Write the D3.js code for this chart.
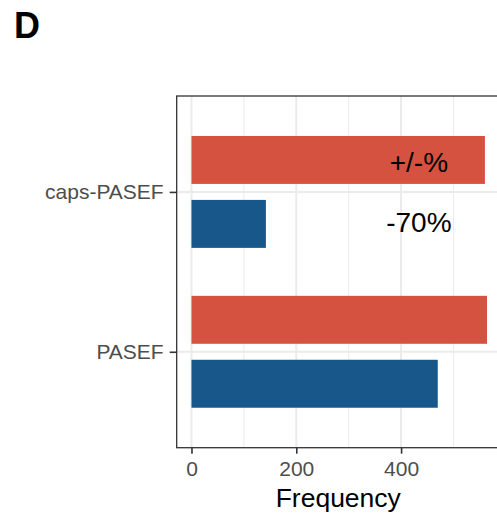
<!DOCTYPE html>
<html>
<head>
<meta charset="utf-8">
<script src="https://cdn.jsdelivr.net/npm/d3@7"></script>
<style>
  body { margin: 0; background: #fff; }
  svg { display: block; font-family: "Liberation Sans", Arial, sans-serif; }
</style>
</head>
<body>
<svg id="chart" width="497" height="515"></svg>
<script>
// values
const categories = [ "caps-PASEF", "PASEF" ];
const seriesKeys = [ "red", "blue" ];
const redValues = [ 560, 564 ];
const blueValues = [ 142, 470 ];
const xTicks = [ 0, 200, 400 ];
const xMinorTicks = [ 100, 300, 500 ];
const annoTexts = [ "+/-%", "-70%" ];
const annoX = [ 434, 434 ];
const annoCat = [ "caps-PASEF", "caps-PASEF" ];

const colors = { red: "#d55240", blue: "#175789" };
const dodge = { red: -0.2, blue: 0.2 };
const annoOffset = [ -0.185, 0.185 ];

const svg = d3.select( "#chart" );
const PANEL = { left: 176.7, top: 96, bottom: 447.7 };

const data = [];
categories.forEach( ( c, i ) => {
  data.push( { cat: c, key: "red", value: redValues[i] } );
  data.push( { cat: c, key: "blue", value: blueValues[i] } );
} );

// ggplot style 5% expansion
const xMax = d3.max( data, d => d.value );
const pad = xMax * 0.05;
const pxPerUnit = 0.524;
const x = d3.scaleLinear()
  .domain( [ -pad, xMax + pad ] )
  .range( [ PANEL.left, PANEL.left + ( xMax + 2 * pad ) * pxPerUnit ] );
PANEL.right = x.range()[1];

const y = d3.scalePoint()
  .domain( categories )
  .range( [ PANEL.top, PANEL.bottom ] )
  .padding( 0.6 );
const step = y.step();

// grid
const grid = svg.append( "g" );
grid.selectAll( ".minor" )
  .data( xMinorTicks )
  .enter()
  .append( "line" )
  .attr( "x1", d => x( d ) ).attr( "x2", d => x( d ) )
  .attr( "y1", PANEL.top ).attr( "y2", PANEL.bottom )
  .attr( "stroke", "#ebebeb" ).attr( "stroke-width", 1 );
grid.selectAll( ".majx" )
  .data( xTicks )
  .enter()
  .append( "line" )
  .attr( "x1", d => x( d ) ).attr( "x2", d => x( d ) )
  .attr( "y1", PANEL.top ).attr( "y2", PANEL.bottom )
  .attr( "stroke", "#ebebeb" ).attr( "stroke-width", 2 );
grid.selectAll( ".majy" )
  .data( categories )
  .enter()
  .append( "line" )
  .attr( "x1", PANEL.left ).attr( "x2", PANEL.right )
  .attr( "y1", d => y( d ) ).attr( "y2", d => y( d ) )
  .attr( "stroke", "#ebebeb" ).attr( "stroke-width", 2 );

// bars
svg.append( "g" )
  .selectAll( "rect" )
  .data( data )
  .enter()
  .append( "rect" )
  .attr( "x", x( 0 ) )
  .attr( "y", d => y( d.cat ) + ( dodge[d.key] - 0.15 ) * step )
  .attr( "width", d => x( d.value ) - x( 0 ) )
  .attr( "height", 0.3 * step )
  .attr( "fill", d => colors[d.key] );

// annotations
svg.append( "g" )
  .selectAll( "text" )
  .data( annoTexts )
  .enter()
  .append( "text" )
  .attr( "x", ( d, i ) => x( annoX[i] ) )
  .attr( "y", ( d, i ) => y( annoCat[i] ) + annoOffset[i] * step )
  .attr( "dy", "0.36em" )
  .attr( "text-anchor", "middle" )
  .attr( "font-size", 28 )
  .attr( "fill", "#000" )
  .text( d => d );

// panel border
svg.append( "rect" )
  .attr( "x", PANEL.left ).attr( "y", PANEL.top )
  .attr( "width", PANEL.right - PANEL.left )
  .attr( "height", PANEL.bottom - PANEL.top )
  .attr( "fill", "none" )
  .attr( "stroke", "#333" )
  .attr( "stroke-width", 1.3 );

// axes
const xAxis = svg.append( "g" )
  .attr( "transform", `translate(0,${PANEL.bottom})` )
  .call( d3.axisBottom( x ).tickValues( xTicks ).tickSize( 6 ).tickPadding( 7 ) );
const yAxis = svg.append( "g" )
  .attr( "transform", `translate(${PANEL.left},0)` )
  .call( d3.axisLeft( y ).tickSize( 7 ).tickPadding( 6 ) );

[ xAxis, yAxis ].forEach( ax => {
  ax.select( ".domain" ).remove();
  ax.selectAll( ".tick line" ).attr( "stroke", "#333" ).attr( "stroke-width", 1.6 );
  ax.selectAll( ".tick text" )
    .attr( "font-family", "Liberation Sans, Arial, sans-serif" )
    .attr( "font-size", 21 )
    .attr( "fill", "#4d4d4d" );
} );

// axis title
svg.append( "text" )
  .attr( "x", ( PANEL.left + PANEL.right ) / 2 - 1 )
  .attr( "y", 506.5 )
  .attr( "text-anchor", "middle" )
  .attr( "font-size", 26.5 )
  .attr( "fill", "#000" )
  .text( "Frequency" );

// panel tag
svg.append( "text" )
  .attr( "x", 14 )
  .attr( "y", 38 )
  .attr( "font-size", 36 )
  .attr( "font-weight", "bold" )
  .attr( "fill", "#000" )
  .text( "D" );
</script>
</body>
</html>
